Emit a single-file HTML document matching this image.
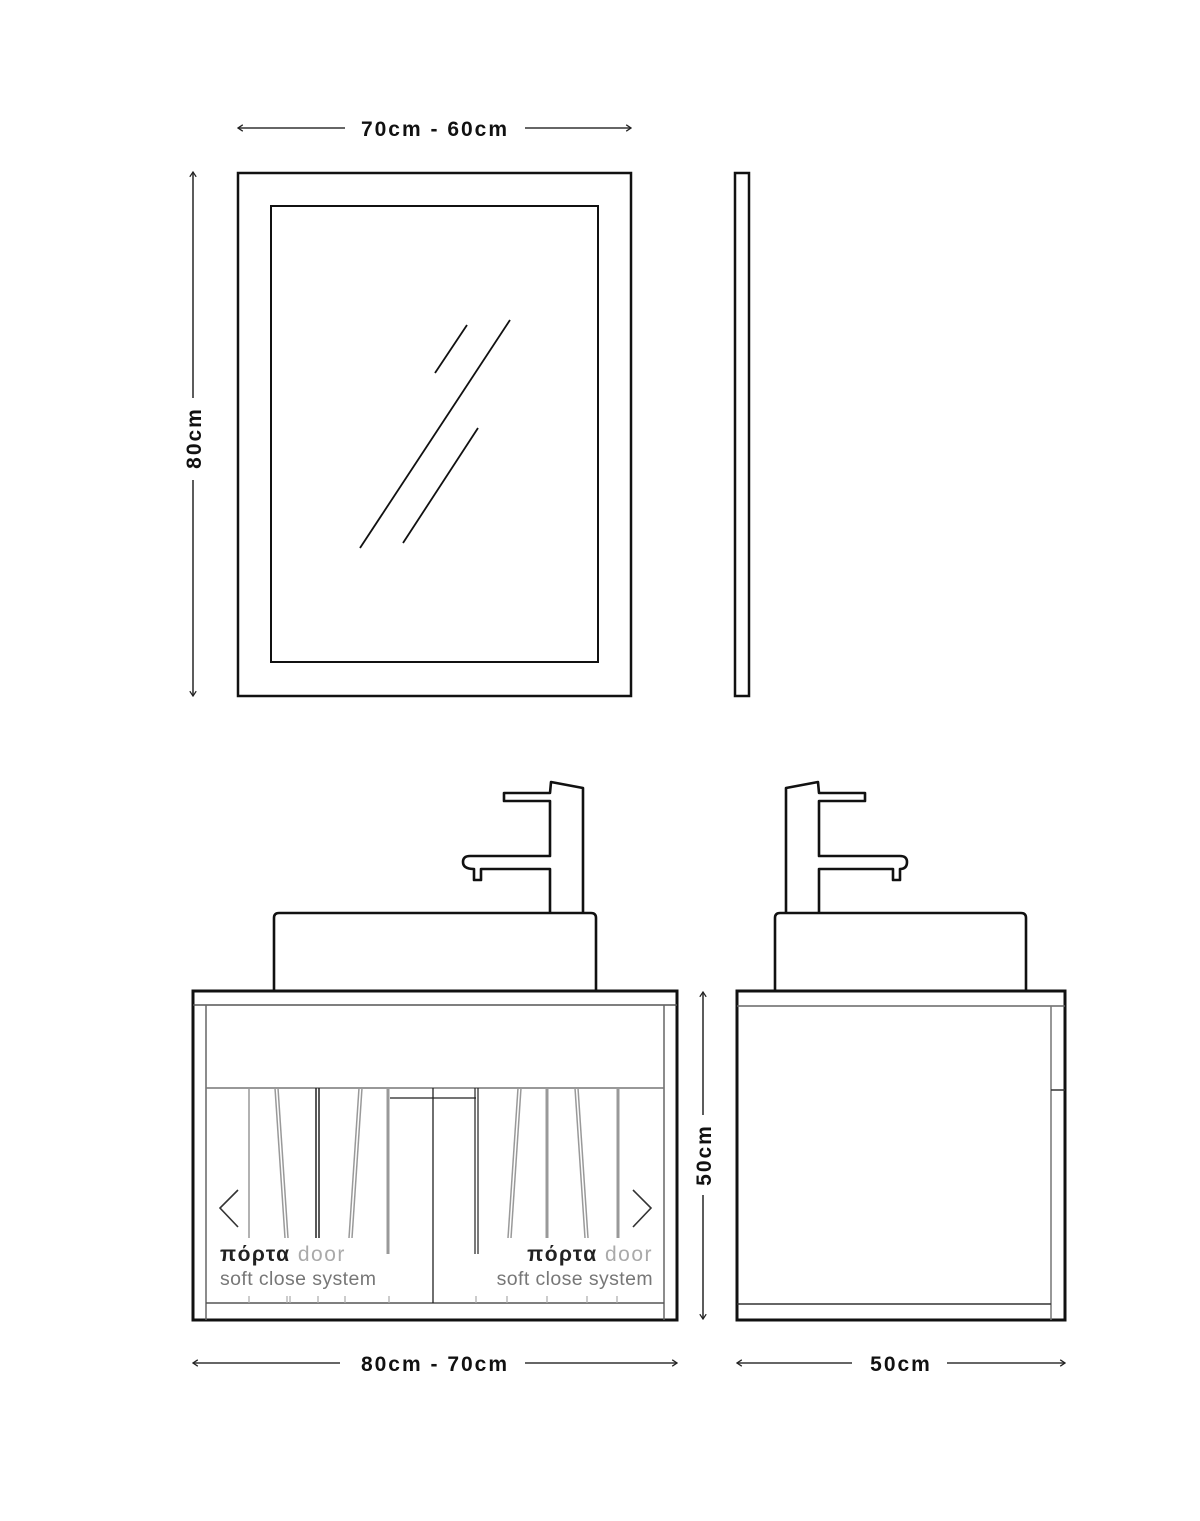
<!DOCTYPE html>
<html><head><meta charset="utf-8"><style>
html,body{margin:0;padding:0;background:#fff;}
svg{display:block;}
text{font-family:"Liberation Sans","DejaVu Sans",sans-serif;}
</style></head><body>
<svg width="1200" height="1521" viewBox="0 0 1200 1521" xmlns="http://www.w3.org/2000/svg">
<defs>
<marker id="ah" viewBox="0 0 10 10" refX="9" refY="5" markerWidth="8" markerHeight="8" orient="auto-start-reverse" markerUnits="userSpaceOnUse">
<path d="M3,1 L9,5 L3,9" fill="none" stroke="#222" stroke-width="1.6"/>
</marker>
</defs>
<g stroke="#333" stroke-width="1.6" fill="none">
<line x1="238" y1="128" x2="345" y2="128" marker-start="url(#ah)"/>
<line x1="525" y1="128" x2="631" y2="128" marker-end="url(#ah)"/>
<line x1="193" y1="172" x2="193" y2="398" marker-start="url(#ah)"/>
<line x1="193" y1="480" x2="193" y2="696" marker-end="url(#ah)"/>
<line x1="703" y1="992" x2="703" y2="1115" marker-start="url(#ah)"/>
<line x1="703" y1="1195" x2="703" y2="1319" marker-end="url(#ah)"/>
<line x1="193" y1="1363" x2="340" y2="1363" marker-start="url(#ah)"/>
<line x1="525" y1="1363" x2="677" y2="1363" marker-end="url(#ah)"/>
<line x1="737" y1="1363" x2="852" y2="1363" marker-start="url(#ah)"/>
<line x1="947" y1="1363" x2="1065" y2="1363" marker-end="url(#ah)"/>
</g>
<g fill="#111" font-weight="bold" font-size="21" text-anchor="middle" letter-spacing="2">
<text x="435" y="136">70cm - 60cm</text>
<text x="435" y="1371">80cm - 70cm</text>
<text x="901" y="1371">50cm</text>
<text transform="translate(201,438) rotate(-90)">80cm</text>
<text transform="translate(711,1155) rotate(-90)">50cm</text>
</g>
<g stroke="#111" fill="none">
<rect x="238" y="173" width="393" height="523" stroke-width="2.5"/>
<rect x="271" y="206" width="327" height="456" stroke-width="2"/>
<rect x="735" y="173" width="14" height="523" stroke-width="2.5"/>
<line x1="435" y1="373" x2="467" y2="325" stroke-width="1.8"/>
<line x1="360" y1="548" x2="510" y2="320" stroke-width="1.8"/>
<line x1="403" y1="543" x2="478" y2="428" stroke-width="1.8"/>
</g>
<g stroke="#111" stroke-width="2.6" fill="none" stroke-linejoin="round">
<path d="M550,913 L550,869 L481,869 L481,880 L474,880 L474,869 Q463,869 463,862 Q463,856 470,856 L550,856 L550,801 L504,801 L504,793 L550,793 L551,782 L583,788 L583,913"/>
<path d="M274,991 L274,918 Q274,913 279,913 L591,913 Q596,913 596,918 L596,991"/>
<path d="M819,913 L819,869 L893,869 L893,880 L900,880 L900,869 Q907,869 907,862 Q907,856 900,856 L819,856 L819,801 L865,801 L865,793 L819,793 L818,782 L786,788 L786,913"/>
<path d="M775,991 L775,918 Q775,913 780,913 L1021,913 Q1026,913 1026,918 L1026,991"/>
</g>
<g fill="none">
<rect x="193" y="991" width="484" height="329" stroke="#111" stroke-width="3"/>
<line x1="193" y1="1005" x2="677" y2="1005" stroke="#555" stroke-width="1.5"/>
<line x1="206" y1="1005" x2="206" y2="1320" stroke="#666" stroke-width="1.5"/>
<line x1="664" y1="1005" x2="664" y2="1320" stroke="#666" stroke-width="1.5"/>
<line x1="206" y1="1088" x2="664" y2="1088" stroke="#777" stroke-width="1.5"/>
<line x1="206" y1="1303" x2="664" y2="1303" stroke="#555" stroke-width="1.5"/>
<line x1="433" y1="1088" x2="433" y2="1303" stroke="#222" stroke-width="1.3"/>
<line x1="390" y1="1098" x2="476" y2="1098" stroke="#222" stroke-width="1.3"/>
<g stroke="#999" stroke-width="1.5">
<line x1="249" y1="1088" x2="249" y2="1238"/>
<line x1="275" y1="1088" x2="285" y2="1238"/><line x1="278" y1="1088" x2="288" y2="1238"/>
<line x1="316" y1="1088" x2="316" y2="1238" stroke="#222"/><line x1="319" y1="1088" x2="319" y2="1238" stroke="#222"/>
<line x1="359" y1="1088" x2="349" y2="1238"/><line x1="362" y1="1088" x2="352" y2="1238"/>
<line x1="388" y1="1088" x2="388" y2="1254" stroke-width="3"/>
<line x1="475" y1="1088" x2="475" y2="1254" stroke="#222" stroke-width="1.2"/><line x1="478" y1="1088" x2="478" y2="1254" stroke="#222" stroke-width="1.2"/>
<line x1="518" y1="1088" x2="508" y2="1238"/><line x1="521" y1="1088" x2="511" y2="1238"/>
<line x1="547" y1="1088" x2="547" y2="1238" stroke-width="3"/>
<line x1="575" y1="1088" x2="585" y2="1238"/><line x1="578" y1="1088" x2="588" y2="1238"/>
<line x1="618" y1="1088" x2="618" y2="1238" stroke-width="3"/>
</g>
<g stroke="#aaa" stroke-width="1.2">
<line x1="249" y1="1296" x2="249" y2="1303"/><line x1="287" y1="1296" x2="287" y2="1303"/><line x1="290" y1="1296" x2="290" y2="1303"/>
<line x1="318" y1="1296" x2="318" y2="1303"/><line x1="345" y1="1296" x2="345" y2="1303"/><line x1="389" y1="1296" x2="389" y2="1303"/>
<line x1="476" y1="1296" x2="476" y2="1303"/><line x1="507" y1="1296" x2="507" y2="1303"/><line x1="547" y1="1296" x2="547" y2="1303"/>
<line x1="587" y1="1296" x2="587" y2="1303"/><line x1="617" y1="1296" x2="617" y2="1303"/>
</g>
<path d="M238,1190 L220,1208 L238,1227" stroke="#333" stroke-width="1.6"/>
<path d="M633,1190 L651,1208 L633,1227" stroke="#333" stroke-width="1.6"/>
</g>
<g font-size="21" letter-spacing="1.5">
<text x="220" y="1261"><tspan font-weight="bold" fill="#222">πόρτα</tspan> <tspan fill="#aaa">door</tspan></text>
<text x="220" y="1285" fill="#777" font-size="19.5" letter-spacing="0.4">soft close system</text>
<text x="653" y="1261" text-anchor="end"><tspan font-weight="bold" fill="#222">πόρτα</tspan> <tspan fill="#aaa">door</tspan></text>
<text x="653" y="1285" fill="#777" font-size="19.5" letter-spacing="0.4" text-anchor="end">soft close system</text>
</g>
<g fill="none">
<rect x="737" y="991" width="328" height="329" stroke="#111" stroke-width="3"/>
<line x1="737" y1="1006" x2="1065" y2="1006" stroke="#666" stroke-width="1.5"/>
<line x1="1051" y1="1006" x2="1051" y2="1320" stroke="#777" stroke-width="1.5"/>
<line x1="1051" y1="1090" x2="1065" y2="1090" stroke="#333" stroke-width="1.5"/>
<line x1="737" y1="1304" x2="1051" y2="1304" stroke="#333" stroke-width="1.5"/>
</g>
</svg>
</body></html>
